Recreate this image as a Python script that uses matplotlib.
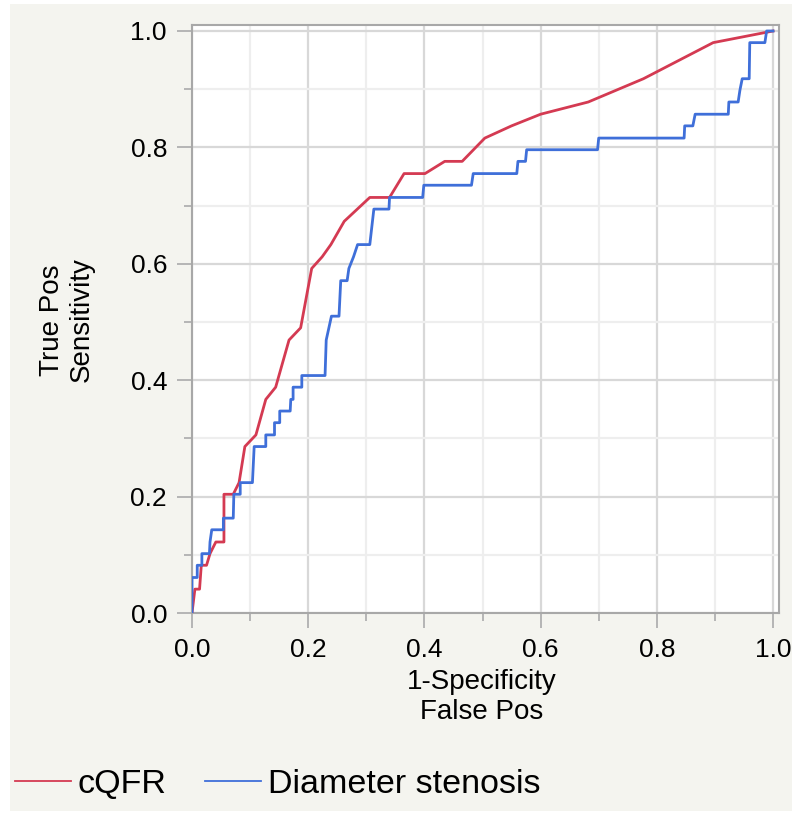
import matplotlib
matplotlib.use("Agg")
import matplotlib.pyplot as plt
from matplotlib.patches import Rectangle
from matplotlib.ticker import MultipleLocator

plt.rcParams['font.family'] = ['Liberation Sans', 'DejaVu Sans']

# ---------- data ----------
cqfr_fpr = [0.0, 0.005, 0.013, 0.016, 0.025, 0.031, 0.041, 0.055, 0.055, 0.071,
            0.081, 0.091, 0.110, 0.127, 0.144, 0.167, 0.187, 0.206, 0.224, 0.239,
            0.262, 0.306, 0.340, 0.365, 0.401, 0.435, 0.465, 0.504, 0.550, 0.600,
            0.682, 0.777, 0.897, 1.0]
cqfr_tpr = [0.0, 0.041, 0.041, 0.082, 0.082, 0.102, 0.122, 0.122, 0.204, 0.204,
            0.224, 0.286, 0.306, 0.367, 0.388, 0.469, 0.490, 0.592, 0.612, 0.633,
            0.673, 0.714, 0.714, 0.755, 0.755, 0.776, 0.776, 0.816, 0.837, 0.857,
            0.878, 0.918, 0.980, 1.0]

ds_fpr = [0.0, 0.0, 0.009, 0.009, 0.017, 0.017, 0.030, 0.031, 0.034, 0.054,
          0.054, 0.071, 0.072, 0.083, 0.083, 0.104, 0.107, 0.127, 0.127, 0.142,
          0.142, 0.151, 0.151, 0.169, 0.170, 0.174, 0.174, 0.189, 0.189, 0.229,
          0.231, 0.240, 0.253, 0.256, 0.267, 0.270, 0.278, 0.285, 0.306, 0.313,
          0.339, 0.340, 0.397, 0.399, 0.481, 0.484, 0.559, 0.561, 0.574, 0.576,
          0.698, 0.700, 0.847, 0.848, 0.862, 0.866, 0.923, 0.924, 0.940, 0.943,
          0.947, 0.959, 0.960, 0.986, 0.989, 1.0]
ds_tpr = [0.0, 0.061, 0.061, 0.082, 0.082, 0.102, 0.102, 0.122, 0.143, 0.143,
          0.163, 0.163, 0.204, 0.204, 0.224, 0.224, 0.286, 0.286, 0.306, 0.306,
          0.327, 0.327, 0.347, 0.347, 0.367, 0.367, 0.388, 0.388, 0.408, 0.408,
          0.469, 0.510, 0.510, 0.571, 0.571, 0.592, 0.612, 0.633, 0.633, 0.694,
          0.694, 0.714, 0.714, 0.735, 0.735, 0.755, 0.755, 0.776, 0.776, 0.796,
          0.796, 0.816, 0.816, 0.837, 0.837, 0.857, 0.857, 0.878, 0.878, 0.898,
          0.918, 0.918, 0.980, 0.980, 1.0, 1.0]

series_names = ["cQFR", "Diameter stenosis"]
series_colors = ["#d43a52", "#3f6fd9"]
tick_vals = [0.0, 0.2, 0.4, 0.6, 0.8, 1.0]

W, H = 792, 813
fig = plt.figure(figsize=(W / 100, H / 100), dpi=100)
fig.patch.set_facecolor("white")
# grey panel behind everything
fig.patches.append(Rectangle((10 / W, 2 / H), 1 - 10 / W, 1 - 6 / H,
                             transform=fig.transFigure, facecolor="#f4f4ef",
                             edgecolor="none", zorder=-10))

ax = fig.add_axes([192 / W, 1 - 613 / H, (779 - 192) / W, (613 - 25) / H])
ax.set_facecolor("white")

l1, = ax.plot(cqfr_fpr, cqfr_tpr, color=series_colors[0], lw=2.0, zorder=3)
l2, = ax.plot(ds_fpr, ds_tpr, color=series_colors[1], lw=2.0, zorder=4)

ax.set_xlim(0, 1.0103)
ax.set_ylim(0, 1.0103)
ax.set_xticks(tick_vals)
ax.set_yticks(tick_vals)
ax.set_xticklabels([f"{v:.1f}" for v in tick_vals])
ax.set_yticklabels([f"{v:.1f}" for v in tick_vals])
ax.xaxis.set_minor_locator(MultipleLocator(0.1))
ax.yaxis.set_minor_locator(MultipleLocator(0.1))

# grid
ax.grid(which="major", color="#d8d8d8", lw=1.6, zorder=0)
ax.grid(which="minor", color="#eeeeee", lw=1.6, zorder=0)
ax.set_axisbelow(True)

for s in ax.spines.values():
    s.set_color("#a8a8a8")
    s.set_linewidth(1.5)

ax.tick_params(which="major", length=11, width=1.3, color="#b0b0b0",
               labelsize=19, pad=7)
ax.tick_params(which="minor", length=6, width=1.3, color="#b0b0b0")

# axis titles
fig.text(482 / W, 1 - 697 / H, "1-Specificity\nFalse Pos", ha="center", va="center",
         fontsize=20, multialignment="center")
fig.text(67 / W, 1 - 320 / H, "True Pos\nSensitivity", ha="center", va="center",
         rotation=90, fontsize=20, multialignment="center")

fig.legend([l1, l2], series_names, loc="center left",
           bbox_to_anchor=(15 / W, 1 - 784 / H), frameon=False, ncol=2,
           fontsize=24.5, handlelength=1.65, handletextpad=0.2,
           columnspacing=1.12, borderpad=0, borderaxespad=0)
for h in fig.legends[0].get_lines():
    h.set_linewidth(1.3)

fig.savefig("out.png", dpi=100, facecolor=fig.get_facecolor())
